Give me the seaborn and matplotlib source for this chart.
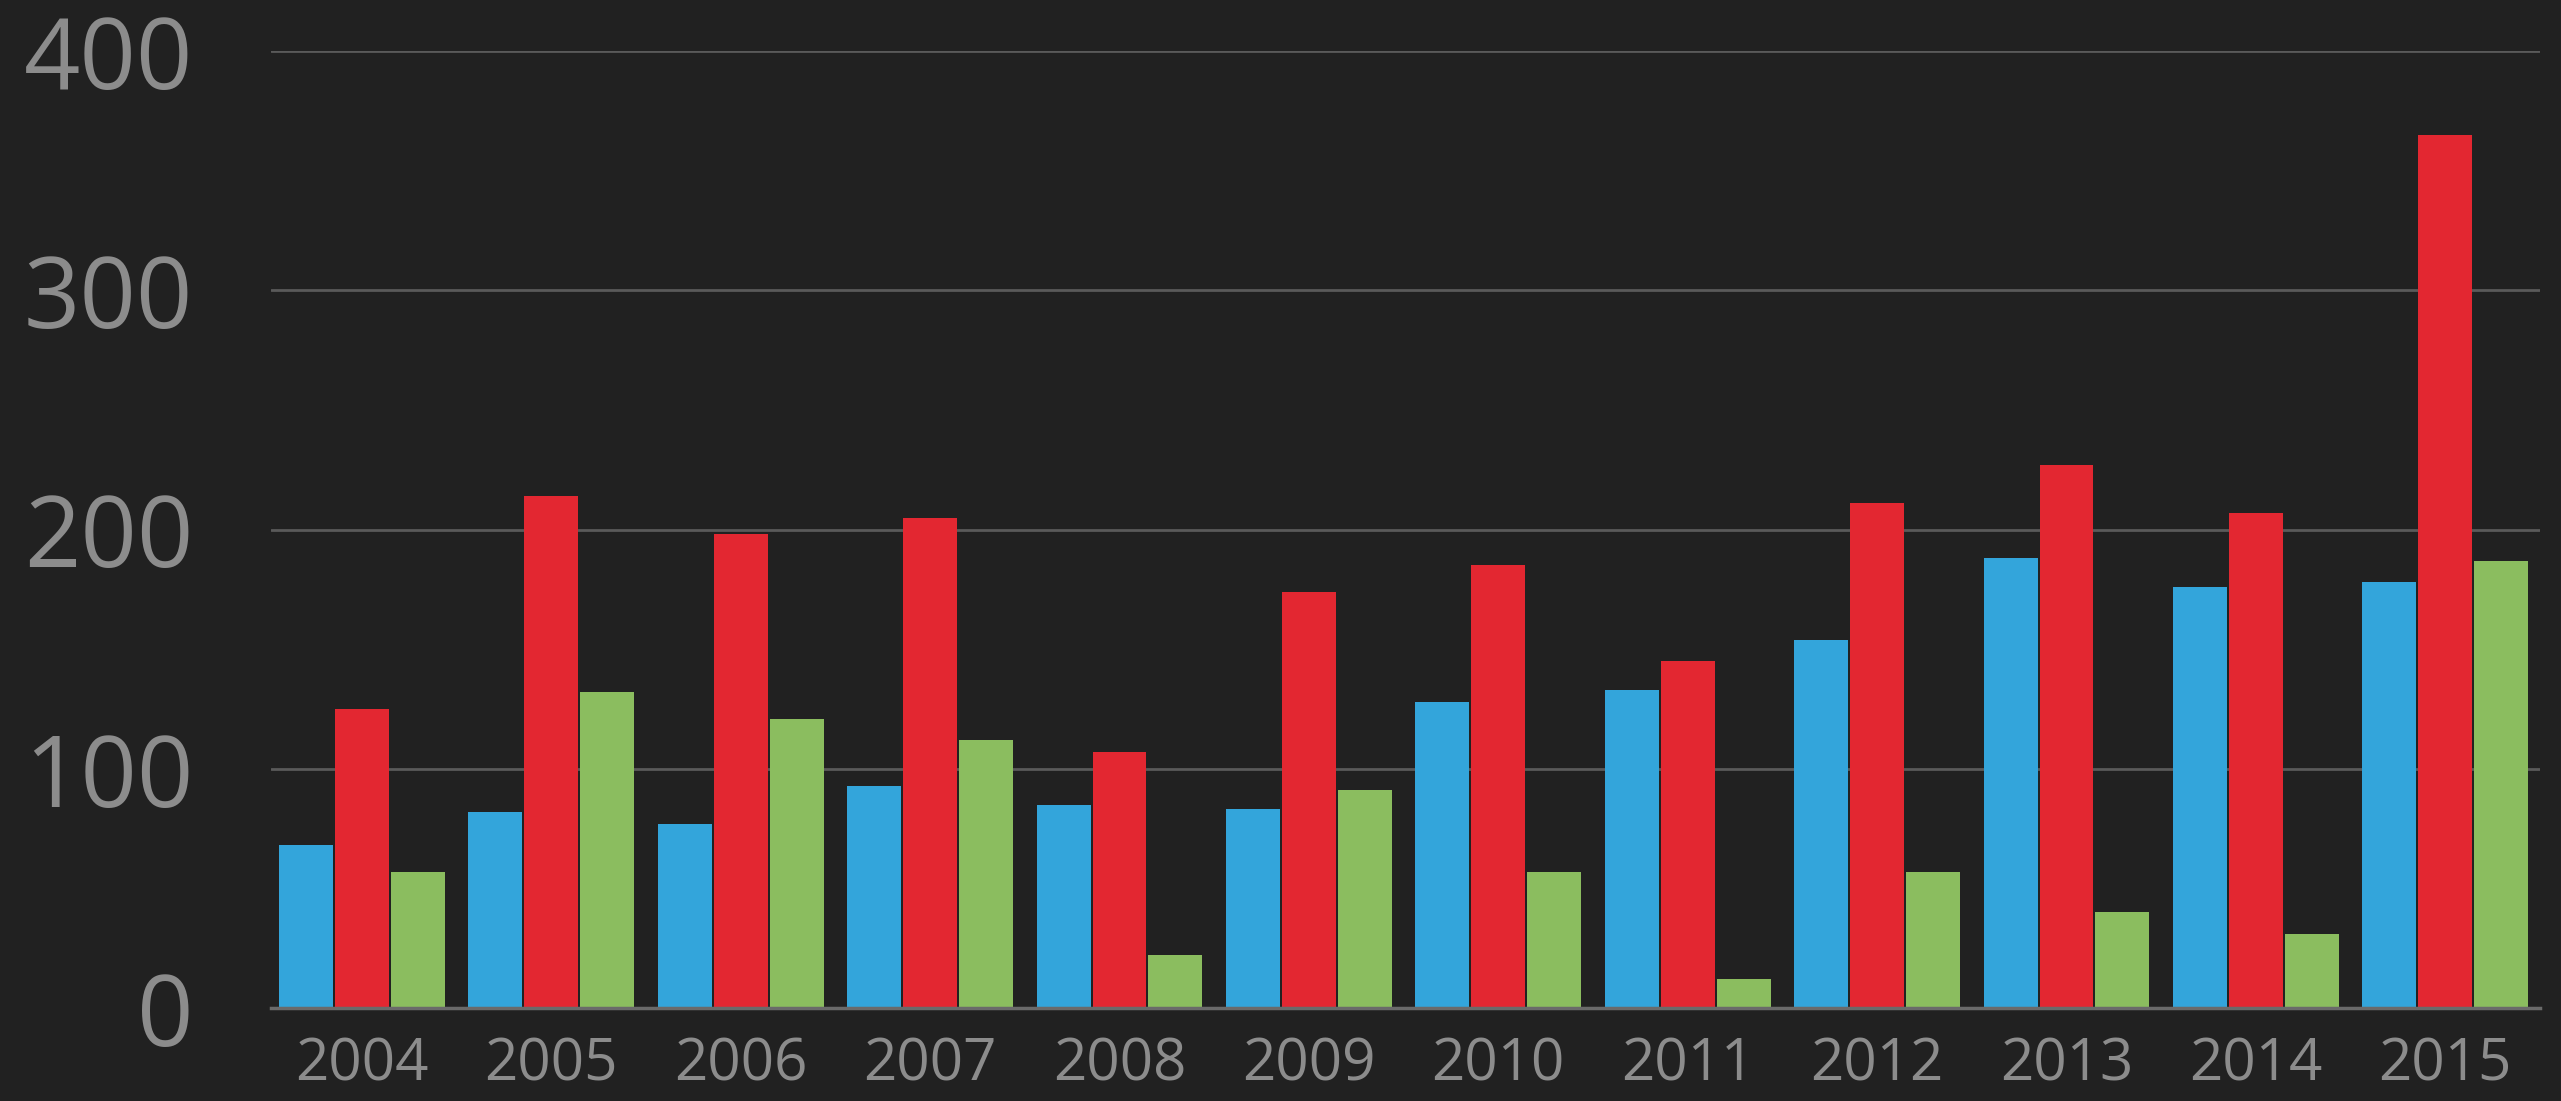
import pandas as pd
import matplotlib.pyplot as plt
import seaborn as sns

# values
years = ["2004", "2005", "2006", "2007", "2008", "2009",
         "2010", "2011", "2012", "2013", "2014", "2015"]
blue_vals = [68, 82, 77, 93, 85, 83, 128, 133, 154, 188, 176, 178]
red_vals = [125, 214, 198, 205, 107, 174, 185, 145, 211, 227, 207, 365]
green_vals = [57, 132, 121, 112, 22, 91, 57, 12, 57, 40, 31, 187]
series_names = ["Blue", "Red", "Green"]
series_colors = ["#33A5DB", "#E32731", "#8BBD5F"]
y_ticks = [0, 100, 200, 300, 400]

df = pd.DataFrame({
    "year": years * 3,
    "value": blue_vals + red_vals + green_vals,
    "series": [s for s in series_names for _ in years],
})

bg = "#212121"
sns.set_theme(style="dark")
plt.rcParams["font.family"] = ["Open Sans", "DejaVu Sans"]

fig = plt.figure(figsize=(25.61, 11.01), dpi=100, facecolor=bg)
ax = fig.add_axes([0.1058, 0.0845, 0.886, 0.869])
ax.set_facecolor(bg)

sns.barplot(data=df, x="year", y="value", hue="series", palette=series_colors,
            hue_order=series_names, width=0.885, gap=0.035, saturation=1,
            linewidth=0, legend=False, ax=ax, zorder=3)

ax.set_ylim(0, 400)
ax.set_xlim(-0.48, 11.5)
ax.set_yticks(y_ticks)
ax.set_yticklabels([str(t) for t in y_ticks])
ax.yaxis.grid(True, color="#5a5a5a", linewidth=2, zorder=0)
ax.xaxis.grid(False)
for side in ["top", "right", "left"]:
    ax.spines[side].set_visible(False)
ax.spines["bottom"].set_color("#6a6a6a")
ax.spines["bottom"].set_linewidth(2.5)
ax.spines["bottom"].set_zorder(4)

ax.tick_params(axis="y", length=0, pad=56, labelsize=71, labelcolor="#8c8c8c")
ax.tick_params(axis="x", length=0, pad=20, labelsize=42, labelcolor="#8c8c8c")
ax.set_xlabel("")
ax.set_ylabel("")

fig.savefig("out.png", dpi=100, facecolor=bg)
